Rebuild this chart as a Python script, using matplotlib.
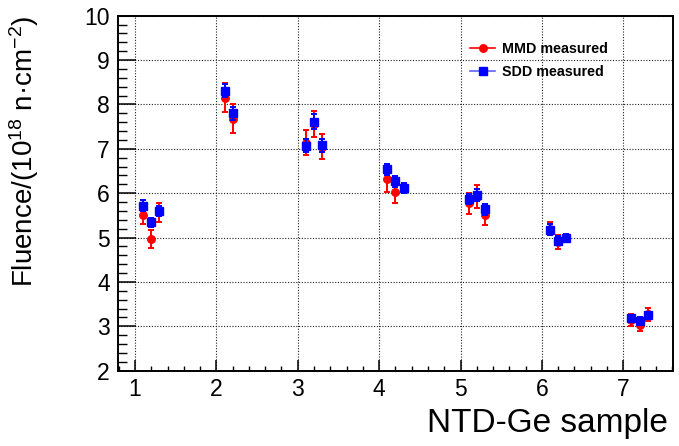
import matplotlib
matplotlib.use("Agg")
import matplotlib.pyplot as plt
from matplotlib.lines import Line2D
from matplotlib.ticker import MultipleLocator

# ---- data ----
x_pos = [1.1, 1.2, 1.3, 2.1, 2.2, 3.1, 3.2, 3.3, 4.1, 4.2, 4.3,
         5.1, 5.2, 5.3, 6.1, 6.2, 6.3, 7.1, 7.2, 7.3]
mmd = [5.52, 4.96, 5.57, 8.15, 7.68, 7.14, 7.56, 7.05, 6.32, 6.03, 6.11,
       5.77, 5.92, 5.51, 5.20, 4.90, 4.98, 3.14, 3.03, 3.27]
mmd_err = [0.22, 0.20, 0.22, 0.33, 0.32, 0.28, 0.29, 0.28, 0.30, 0.24, 0.10,
           0.24, 0.26, 0.22, 0.14, 0.16, 0.08, 0.13, 0.13, 0.14]
sdd = [5.72, 5.34, 5.60, 8.31, 7.80, 7.07, 7.61, 7.08, 6.54, 6.27, 6.12,
       5.87, 5.96, 5.64, 5.18, 4.93, 5.00, 3.18, 3.13, 3.25]
sdd_err = [0.12, 0.10, 0.12, 0.15, 0.15, 0.15, 0.17, 0.15, 0.12, 0.12, 0.12,
           0.12, 0.13, 0.12, 0.12, 0.10, 0.09, 0.07, 0.07, 0.08]
series_labels = ["MMD measured", "SDD measured"]
x_ticks = [1, 2, 3, 4, 5, 6, 7]
y_ticks = [2, 3, 4, 5, 6, 7, 8, 9, 10]
x_title = "NTD-Ge sample"
y_title = "Fluence/(10$^{18}$ n·cm$^{-2}$)"

plt.rcParams["font.family"] = ["Liberation Sans", "DejaVu Sans"]
plt.rcParams["mathtext.fontset"] = "custom"
plt.rcParams["mathtext.rm"] = "Liberation Sans"
plt.rcParams["mathtext.it"] = "Liberation Sans:italic"
plt.rcParams["mathtext.bf"] = "Liberation Sans:bold"
plt.rcParams["mathtext.default"] = "regular"

W, H = 679, 446
fig = plt.figure(figsize=(W / 100, H / 100), dpi=100)
L, R, B, T = 117.5, 672.7, 370.7, 15.7
ax = fig.add_axes([L / W, 1 - B / H, (R - L) / W, (B - T) / H])

red = "#ff0000"
blue = "#0000ff"

ax.errorbar(x_pos, mmd, yerr=mmd_err, fmt="o", color=red, ms=5.4,
            elinewidth=1.4, capsize=2.2, capthick=1.4, zorder=3)
ax.errorbar(x_pos, sdd, yerr=sdd_err, fmt="s", color=blue, ms=5.6,
            elinewidth=1.4, capsize=2.2, capthick=1.4, zorder=4)

ax.set_xlim(0.785, 7.607)
ax.set_ylim(2, 10)
ax.set_xticks(x_ticks)
ax.set_yticks(y_ticks)
ax.xaxis.set_minor_locator(MultipleLocator(0.2))
ax.yaxis.set_minor_locator(MultipleLocator(0.2))

ax.grid(True, which="major", linestyle=(0, (1, 1.5)), color="#222222",
        linewidth=0.8)
ax.set_axisbelow(True)

for s in ax.spines.values():
    s.set_linewidth(1.4)
ax.tick_params(axis="x", which="major", direction="in", length=7.7,
               width=1.1, labelsize=16.5, pad=5, top=False)
ax.tick_params(axis="x", which="minor", direction="in", length=3.8,
               width=1.0, top=False)
ax.tick_params(axis="y", which="major", direction="in", length=12.6,
               width=1.1, labelsize=16.5, pad=5.4, right=False)
ax.tick_params(axis="y", which="minor", direction="in", length=6.6,
               width=1.0, right=False)

ax.set_xlabel(x_title, fontsize=24, loc="right")
ax.xaxis.set_label_coords(1 - (R - 668) / (R - L), -(408 - B) / (B - T))
ax.xaxis.label.set_va("top")
ax.set_ylabel(y_title, fontsize=20, loc="top")
ax.yaxis.set_label_coords(-(L - 41) / (R - L), 1.0)

handles = [
    Line2D([], [], color=red, marker="o", ms=5.4, lw=1.2),
    Line2D([], [], color="#6060ff", marker="s", ms=5.6, lw=1.2,
           markerfacecolor=blue, markeredgecolor=blue),
]
ax.legend(handles, series_labels, loc="upper left",
          bbox_to_anchor=(470 / W, 1 - 42 / H), bbox_transform=fig.transFigure,
          frameon=False, prop={"weight": "bold", "size": 10.3},
          handlelength=1.75, handletextpad=0.46, labelspacing=0.62,
          borderpad=0, borderaxespad=0)

fig.savefig("out.png", dpi=100)
